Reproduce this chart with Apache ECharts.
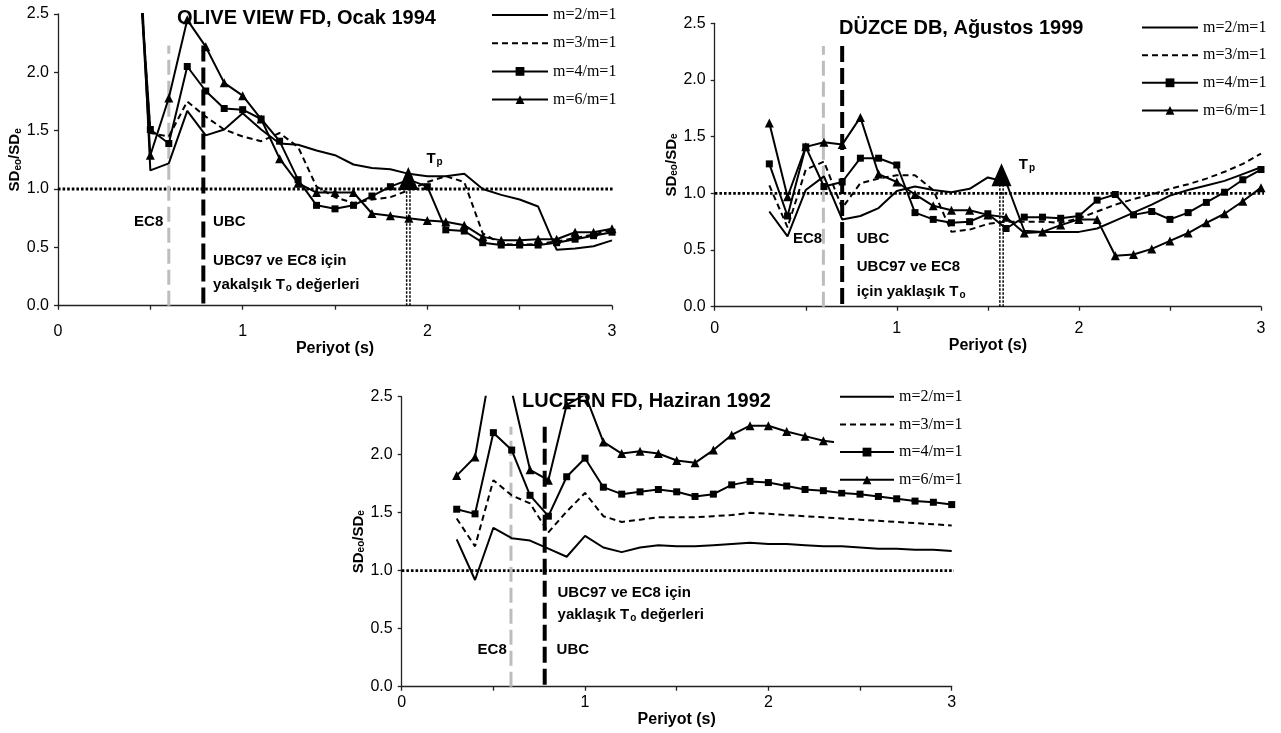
<!DOCTYPE html>
<html><head><meta charset="utf-8">
<script src="https://cdn.jsdelivr.net/npm/echarts@6/dist/echarts.min.js"></script>
<style>html,body{margin:0;padding:0;background:#fff}#c{width:1281px;height:733px}</style>
</head><body><div id="c"></div>
<script>
// ---------- data ----------
const seriesNames = ['m=2/m=1', 'm=3/m=1', 'm=4/m=1', 'm=6/m=1'];
const panelTitles = ['OLIVE VIEW FD, Ocak 1994', 'DÜZCE DB, Ağustos 1999', 'LUCERN FD, Haziran 1992'];
const xTickValues = [0, 1, 2, 3];
const yTickValues = [0.0, 0.5, 1.0, 1.5, 2.0, 2.5];

// Panel 1: OLIVE VIEW FD
const olivePeriods = [0.4,0.5,0.6,0.7,0.8,0.9,1.0,1.1,1.2,1.3,1.4,1.5,1.6,1.7,1.8,1.9,2.0,2.1,2.2,2.3,2.4,2.5,2.6,2.7,2.8,2.9,3.0];
const oliveM2 = [4.5,1.16,1.22,1.67,1.46,1.51,1.65,1.51,1.39,1.38,1.33,1.29,1.21,1.18,1.17,1.13,1.11,1.11,1.13,1.00,0.95,0.91,0.85,0.48,0.49,0.51,0.56];
const oliveM3 = [3.8,1.48,1.45,1.75,1.62,1.51,1.45,1.41,1.48,1.36,1.02,0.93,0.88,0.91,0.93,0.99,1.06,1.11,1.06,0.62,0.53,0.52,0.53,0.55,0.58,0.61,0.65];
const oliveM4 = [3.8,1.51,1.39,2.05,1.84,1.69,1.68,1.60,1.41,1.08,0.86,0.83,0.86,0.94,1.02,1.08,1.02,0.65,0.64,0.54,0.52,0.52,0.52,0.54,0.57,0.60,0.63];
const oliveM6 = [4.0,1.29,1.78,2.45,2.22,1.91,1.80,1.60,1.26,1.05,0.97,0.97,0.97,0.79,0.77,0.75,0.73,0.72,0.69,0.59,0.56,0.56,0.57,0.57,0.63,0.63,0.66];

// Panel 2: DÜZCE DB
const duzcePeriods = [0.3,0.4,0.5,0.6,0.7,0.8,0.9,1.0,1.1,1.2,1.3,1.4,1.5,1.6,1.7,1.8,1.9,2.0,2.1,2.2,2.3,2.4,2.5,2.6,2.7,2.8,2.9,3.0];
const duzceM2 = [0.84,0.62,1.03,1.15,0.77,0.80,0.87,1.02,1.06,1.03,1.01,1.04,1.14,1.10,0.67,0.66,0.66,0.66,0.69,0.76,0.83,0.90,0.98,1.03,1.07,1.11,1.17,1.23];
const duzceM3 = [1.07,0.70,1.21,1.28,0.87,1.09,1.13,1.16,1.16,1.03,0.66,0.68,0.73,0.75,0.75,0.75,0.74,0.78,0.84,0.90,0.95,0.99,1.04,1.08,1.13,1.19,1.26,1.35];
const duzceM4 = [1.26,0.80,1.41,1.06,1.10,1.31,1.31,1.25,0.83,0.77,0.74,0.75,0.82,0.69,0.79,0.79,0.78,0.80,0.94,0.99,0.81,0.84,0.77,0.83,0.92,1.01,1.12,1.21];
const duzceM6 = [1.62,0.97,1.41,1.45,1.43,1.67,1.17,1.10,0.99,0.89,0.85,0.85,0.81,0.79,0.65,0.66,0.72,0.77,0.77,0.45,0.46,0.51,0.58,0.65,0.74,0.82,0.93,1.05];

// Panel 3: LUCERN FD
const lucernPeriods = [0.3,0.4,0.5,0.6,0.7,0.8,0.9,1.0,1.1,1.2,1.3,1.4,1.5,1.6,1.7,1.8,1.9,2.0,2.1,2.2,2.3,2.4,2.5,2.6,2.7,2.8,2.9,3.0];
const lucernM2 = [1.27,0.92,1.37,1.28,1.26,1.19,1.12,1.30,1.20,1.16,1.20,1.22,1.21,1.21,1.22,1.23,1.24,1.23,1.23,1.22,1.21,1.21,1.20,1.19,1.19,1.18,1.18,1.17];
const lucernM3 = [1.45,1.21,1.78,1.65,1.58,1.33,1.51,1.67,1.47,1.42,1.44,1.46,1.46,1.46,1.47,1.48,1.50,1.49,1.48,1.47,1.46,1.45,1.44,1.43,1.42,1.41,1.40,1.39];
const lucernM4 = [1.53,1.49,2.19,2.04,1.65,1.47,1.81,1.97,1.72,1.66,1.68,1.70,1.68,1.64,1.66,1.74,1.77,1.76,1.73,1.70,1.69,1.67,1.66,1.64,1.62,1.60,1.59,1.57];
const lucernM6Periods = [0.3,0.4,0.5,0.6,0.7,0.8,0.9,1.0,1.1,1.2,1.3,1.4,1.5,1.6,1.7,1.8,1.9,2.0,2.1,2.2,2.3,2.4];
const lucernM6 = [1.82,1.98,2.88,2.55,1.87,1.78,2.43,2.52,2.11,2.01,2.03,2.01,1.95,1.93,2.04,2.17,2.25,2.25,2.20,2.16,2.12,2.10];

// approximate To (EC8, UBC) periods and top of their marker lines
const ec8To = [0.6, 0.597, 0.596];
const ubcTo = [0.787, 0.70, 0.78];
const toLineTop = [2.23, 2.30, 2.24];
// Tp (predominant period) per panel: [x, marker value, line top]; LUCERN has none
const tpPeriod = [1.897, 1.575];
const tpMarker = [1.09, 1.165];
const tpLineTop = [1.0, 1.07];
const unityLevel = 1.0;

// ---------- layout ----------
const grids = [
  {left: 58, top: 14, width: 554, height: 291.7},
  {left: 714.7, top: 23.3, width: 546.3, height: 283.4},
  {left: 401.7, top: 396.7, width: 550, height: 290}
];
const xLabelMargin = [18, 14, 8];
const xNameGap = [23, 24, 17];
const FONT = 'Liberation Sans';

function pairs(t, v) { return t.map((p, i) => [p, v[i]]); }

const series = [];
const styleFor = [
  {symbol: 'none', type: 'solid'},
  {symbol: 'none', type: [6, 4]},
  {symbol: 'rect', size: 7, type: 'solid'},
  {symbol: 'triangle', size: 9, type: 'solid'}
];
const panelData = [
  [[olivePeriods, oliveM2], [olivePeriods, oliveM3], [olivePeriods, oliveM4], [olivePeriods, oliveM6]],
  [[duzcePeriods, duzceM2], [duzcePeriods, duzceM3], [duzcePeriods, duzceM4], [duzcePeriods, duzceM6]],
  [[lucernPeriods, lucernM2], [lucernPeriods, lucernM3], [lucernPeriods, lucernM4], [lucernM6Periods, lucernM6]]
];

panelData.forEach((pd, g) => {
  series.push({
    type: 'line', xAxisIndex: g, yAxisIndex: g, silent: true, symbol: 'none', clip: false,
    data: [[-0.05, unityLevel], [3.04, unityLevel]],
    lineStyle: {color: '#000', width: 2.8, type: [2.6, 2]}, z: 1
  });
  series.push({
    type: 'line', xAxisIndex: g, yAxisIndex: g, silent: true, symbol: 'none',
    data: [[ec8To[g], 0], [ec8To[g], toLineTop[g]]],
    lineStyle: {color: '#bdbdbd', width: 3, type: [15, 6]}, z: 1
  });
  series.push({
    type: 'line', xAxisIndex: g, yAxisIndex: g, silent: true, symbol: 'none',
    data: [[ubcTo[g], toLineTop[g]], [ubcTo[g], 0]],
    lineStyle: {color: '#000', width: 4, type: [16, 6]}, z: 1
  });
  if (g < 2) {
    [-0.009, 0.009].forEach(d => {
      series.push({
        type: 'line', xAxisIndex: g, yAxisIndex: g, silent: true, symbol: 'none',
        data: [[tpPeriod[g] + d, 0], [tpPeriod[g] + d, tpLineTop[g]]],
        lineStyle: {color: '#000', width: 1.5, type: [2.5, 1.5]}, z: 1
      });
    });
  }
  pd.forEach((d, k) => {
    const st = styleFor[k];
    series.push({
      name: seriesNames[k], type: 'line', xAxisIndex: g, yAxisIndex: g,
      data: pairs(d[0], d[1]),
      symbol: st.symbol, symbolSize: st.size || 0, showSymbol: st.symbol !== 'none',
      lineStyle: {color: '#000', width: 2, type: st.type},
      itemStyle: {color: '#000', opacity: 1},
      z: 3
    });
  });
  if (g < 2) {
    series.push({
      type: 'scatter', xAxisIndex: g, yAxisIndex: g, silent: true,
      symbol: 'triangle', symbolSize: [20, 23],
      data: [[tpPeriod[g], tpMarker[g]]],
      itemStyle: {color: '#000', opacity: 1}, z: 4
    });
  }
});

const xAxes = grids.map((gr, g) => ({
  type: 'value', gridIndex: g, min: 0, max: 3, interval: 0.5,
  name: 'Periyot (s)', nameLocation: 'middle', nameGap: xNameGap[g],
  nameTextStyle: {fontFamily: FONT, fontWeight: 'bold', fontSize: 16, color: '#000'},
  axisLine: {show: true, onZero: false, lineStyle: {color: '#222', width: 1.3}},
  axisTick: {show: true, length: 4, lineStyle: {color: '#222', width: 1.3}},
  splitLine: {show: false},
  axisLabel: {
    margin: xLabelMargin[g], fontFamily: FONT, fontSize: 16, color: '#000',
    formatter: v => (xTickValues.indexOf(v) >= 0 ? String(v) : '')
  }
}));

const yAxes = grids.map((gr, g) => ({
  type: 'value', gridIndex: g, min: 0, max: 2.5, interval: 0.5,
  name: 'SD{s|eo}/SD{s|e}', nameLocation: 'middle', nameRotate: 90, nameGap: 34,
  nameTextStyle: {
    fontFamily: FONT, fontWeight: 'bold', fontSize: 15, color: '#000',
    rich: {s: {fontFamily: FONT, fontWeight: 'bold', fontSize: 10, color: '#000', padding: [6, 0, 0, 0]}}
  },
  axisLine: {show: true, lineStyle: {color: '#222', width: 1.3}},
  axisTick: {show: true, length: 4, lineStyle: {color: '#222', width: 1.3}},
  splitLine: {show: false},
  axisLabel: {
    margin: 9, fontFamily: FONT, fontSize: 16, color: '#000',
    formatter: v => (yTickValues.indexOf(v) >= 0 ? v.toFixed(1) : '')
  }
}));

const legendPos = [
  {left: 491, top: 7, itemWidth: 56, itemGap: 11.2, padding: 0},
  {left: 1141, top: 19.6, itemWidth: 56, itemGap: 10.6, padding: 0},
  {left: 834, top: 388.7, itemWidth: 54, itemGap: 10.7, padding: [0, 2, 2, 5]}
];
const legendData = seriesNames.map((n, k) => (
  styleFor[k].symbol === 'none' ? {name: n, itemStyle: {opacity: 0}} : {name: n}
));
const legends = legendPos.map(lp => ({
  orient: 'vertical', left: lp.left, top: lp.top, padding: lp.padding,
  itemWidth: lp.itemWidth, itemHeight: 11, itemGap: lp.itemGap + 1,
  selectedMode: false, backgroundColor: '#fff', z: 10,
  textStyle: {fontFamily: 'Liberation Serif', fontSize: 16, lineHeight: 16, color: '#000'},
  data: legendData
}));

const titleStyle = {fontFamily: FONT, fontWeight: 'bold', fontSize: 20, color: '#000'};
const titlePos = [{left: 177, top: 8}, {left: 839, top: 18}, {left: 522, top: 391}];
const titles = panelTitles.map((t, i) => ({
  text: t, left: titlePos[i].left, top: titlePos[i].top, padding: 0,
  textStyle: titleStyle, z: 6
}));

const chart = echarts.init(document.getElementById('c'), null, {renderer: 'canvas'});
chart.setOption({
  animation: false,
  backgroundColor: '#fff',
  title: titles,
  legend: legends,
  grid: grids,
  xAxis: xAxes,
  yAxis: yAxes,
  series: series
});

// ---------- annotations placed through the axes ----------
const annotations = [
  {g: 0, x: 0.57, y: 0.72, t: 'EC8', a: 'right'},
  {g: 0, x: 0.84, y: 0.72, t: 'UBC', a: 'left'},
  {g: 0, x: 0.84, y: 0.386, t: 'UBC97 ve EC8 için', a: 'left'},
  {g: 0, x: 0.84, y: 0.18, t: 'yakalşık T{s|o} değerleri', a: 'left'},
  {g: 0, x: 1.995, y: 1.26, t: 'T{s|p}', a: 'left'},
  {g: 1, x: 0.59, y: 0.60, t: 'EC8', a: 'right'},
  {g: 1, x: 0.78, y: 0.60, t: 'UBC', a: 'left'},
  {g: 1, x: 0.78, y: 0.35, t: 'UBC97 ve EC8', a: 'left'},
  {g: 1, x: 0.78, y: 0.13, t: 'için yaklaşık T{s|o}', a: 'left'},
  {g: 1, x: 1.67, y: 1.25, t: 'T{s|p}', a: 'left'},
  {g: 2, x: 0.573, y: 0.32, t: 'EC8', a: 'right'},
  {g: 2, x: 0.845, y: 0.32, t: 'UBC', a: 'left'},
  {g: 2, x: 0.85, y: 0.805, t: 'UBC97 ve EC8 için', a: 'left'},
  {g: 2, x: 0.85, y: 0.62, t: 'yaklaşık T{s|o} değerleri', a: 'left'}
];
const graphics = annotations.map(an => {
  const p = chart.convertToPixel({gridIndex: an.g}, [an.x, an.y]);
  return {
    type: 'text', x: p[0], y: p[1], z: 20,
    style: {
      text: an.t, fill: '#000',
      fontFamily: FONT, fontWeight: 'bold', fontSize: 15,
      align: an.a, verticalAlign: 'middle', textAlign: an.a, textVerticalAlign: 'middle',
      rich: {s: {fontFamily: FONT, fontWeight: 'bold', fontSize: 10, fill: '#000', padding: [7, 0, 0, 1]}}
    }
  };
});
chart.setOption({graphic: graphics});
</script>
</body></html>
